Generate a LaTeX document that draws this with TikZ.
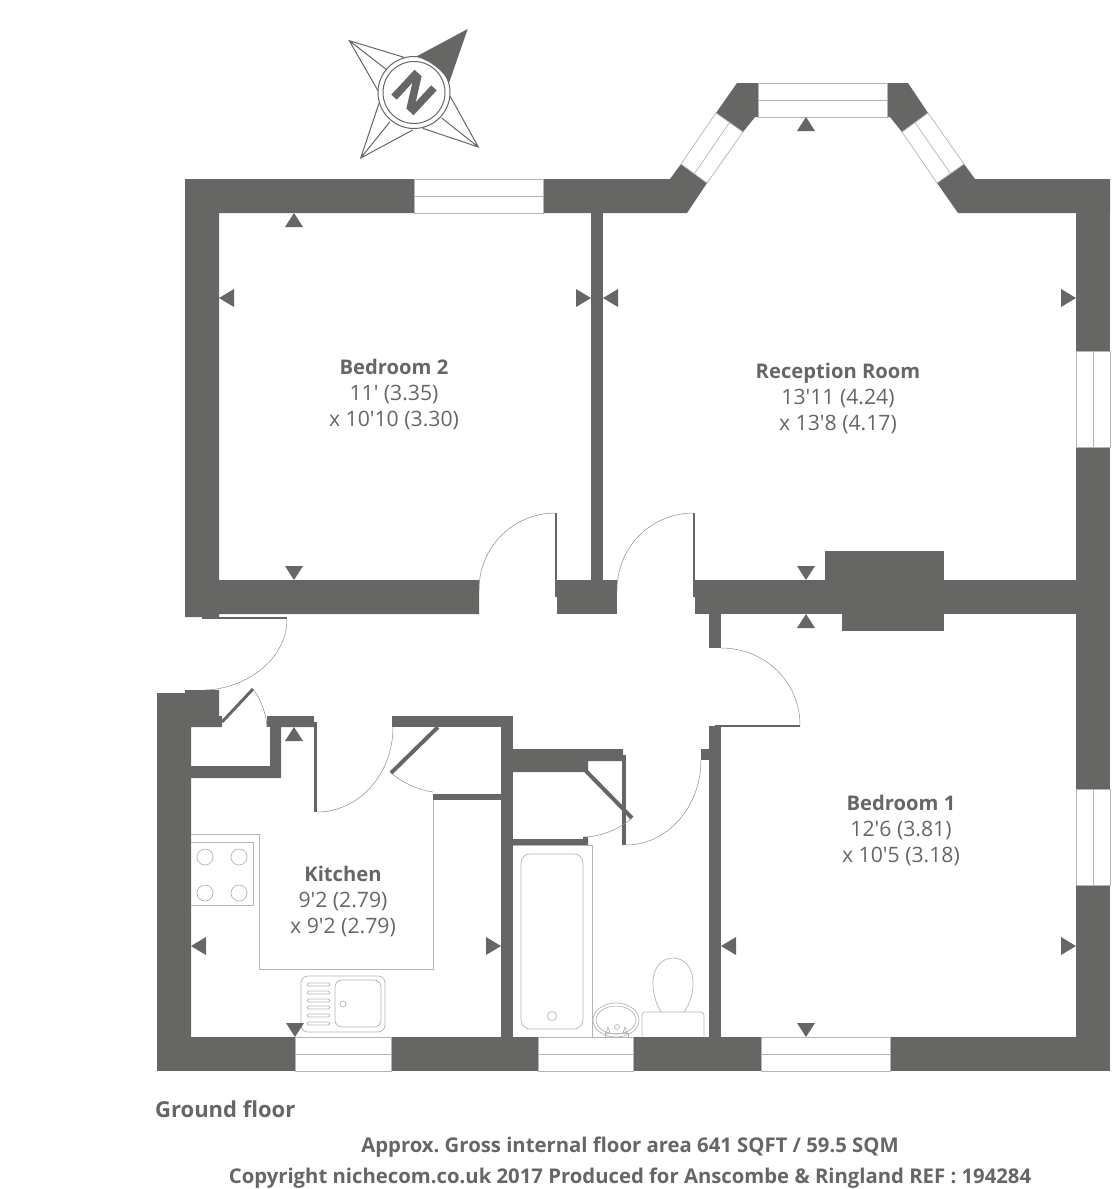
\documentclass[tikz,border=0pt]{standalone}
\usepackage{fontspec}
\newfontfamily\planfont{Open Sans}
\newfontfamily\northfont[BoldFeatures={FakeBold=2.5}]{Open Sans}
\frenchspacing
\definecolor{wallgrey}{HTML}{666665}
\definecolor{fittinggrey}{HTML}{B4B4B4}
\definecolor{doorgrey}{HTML}{8C8C8C}
\newcommand{\roomname}[1]{{\bfseries\fontsize{20.2}{26}\selectfont #1}}
\tikzset{
  wall/.style={fill=wallgrey},
  windowpane/.style={draw=fittinggrey,fill=white,line width=.7pt},
  fitting/.style={draw=fittinggrey,line width=.7pt},
  doorswing/.style={draw=doorgrey,line width=.5pt},
  compassline/.style={draw=wallgrey,line width=1pt},
  roomlabel/.style={align=center,inner sep=0pt,text=wallgrey,font=\planfont\fontsize{21.2}{26}\selectfont},
  footerlabel/.style={inner sep=0pt,text=wallgrey,font=\planfont\bfseries\fontsize{20.3}{24}\selectfont}
}
\begin{document}
\begin{tikzpicture}[x=1pt,y=-1pt]
  \useasboundingbox (0,0) rectangle (1112,1189);
  %COMPASS
  \coordinate (O) at (414,92.5);
  \coordinate (NE) at (467.7,29);
  \coordinate (NW) at (349.3,40.7);
  \coordinate (SE) at (478.3,147);
  \coordinate (SW) at (360.7,158);
  \draw[compassline] (404,57.3) -- (NW) -- (378,90.7) (NW) -- (387,70);
  \draw[compassline] (450,96) -- (SE) -- (422.7,128.3) (SE) -- (441.7,118);
  \draw[compassline] (379,103.3) -- (SW) -- (412.7,130) (SW) -- (390,121.7);
  \fill[wall] (416,56.7) -- (NE) -- (449,83) .. controls (445,72) and (430,60) .. cycle;
  \draw[compassline] (O) circle (36);
  \draw[compassline] (O) circle (31);
  \node[rotate=-43,inner sep=0pt,text=wallgrey,font=\northfont\bfseries\fontsize{46}{46}\selectfont] (northmark) at (O) {N};
  %OUTER WALLS
  \fill[wall] (185,179) -- (414,179) -- (414,213) -- (219,213) -- (219,580) -- (479,580) -- (479,614)
    -- (219,614) -- (219,617) -- (185,617) -- cycle;
  \fill[wall] (543,179) -- (670,179) -- (681,164) -- (707,183) -- (687,213) -- (543,213) -- cycle;
  \fill[wall] (716,113) -- (737,83) -- (758,83) -- (758,117) -- (755,117) -- (743,132) -- cycle;
  \fill[wall] (887,83) -- (908,83) -- (928,113) -- (902,132) -- (890,117) -- (887,117) -- cycle;
  \fill[wall] (964,164) -- (975,179) -- (1110,179) -- (1110,213) -- (958,213) -- (937,183) -- cycle;
  \fill[wall] (1076,179) rectangle (1110,351);
  \fill[wall] (1076,447) rectangle (1110,789);
  \fill[wall] (1076,885) rectangle (1110,1071);
  \fill[wall] (157,1037) rectangle (295,1071);
  \fill[wall] (391,1037) rectangle (538,1071);
  \fill[wall] (633,1037) rectangle (761,1071);
  \fill[wall] (890,1037) rectangle (1110,1071);
  \fill[wall] (157,693) -- (185,693) -- (185,690) -- (219,690) -- (219,716) -- (222,716) -- (222,727)
    -- (191,727) -- (191,1037) -- (157,1037) -- cycle;
  %INNER WALLS
  \fill[wall] (591,213) rectangle (603,580);
  \fill[wall] (557,580) rectangle (617,614);
  \fill[wall] (695,580) rectangle (1076,614);
  \fill[wall] (825,551) rectangle (944,580);
  \fill[wall] (842,614) rectangle (944,631);
  \fill[wall] (709,614) rectangle (721,648);
  \fill[wall] (709,726) rectangle (721,1037);
  \fill[wall] (701,749) rectangle (709,760);
  \fill[wall] (191,766) -- (270,766) -- (270,716) -- (314,716) -- (314,727) -- (281,727) -- (281,778) -- (191,778) -- cycle;
  \fill[wall] (267,716) rectangle (270,727);
  \fill[wall] (392,716) rectangle (513,727);
  \fill[wall] (501,727) rectangle (513,1037);
  \fill[wall] (433,794) rectangle (501,800);
  \fill[wall] (513,749) -- (623,749) -- (623,761) -- (588,761) -- (588,770) -- (583,772) -- (513,772) -- cycle;
  \fill[wall] (513,839) -- (583,839) -- (583,837) -- (588,837) -- (588,845) -- (513,845) -- cycle;
  %DOORS
  \fill[wall] (202,617) rectangle (287,619);
  \draw[doorswing] (287,619) .. controls (287,660) and (245,689) .. (205,690);
  \draw[draw=wallgrey,line width=3pt] (222,722) -- (253,689);
  \draw[doorswing] (253,689) .. controls (260,698) and (266,712) .. (267,727);
  \fill[wall] (314,722) rectangle (317,812);
  \draw[doorswing] (317,812) .. controls (359,812) and (393,774) .. (393,727);
  \draw[draw=wallgrey,line width=4pt] (438,727) -- (391,773);
  \draw[doorswing] (391,773) .. controls (403,783) and (418,790) .. (433,792);
  \fill[wall] (555,513) rectangle (557,597);
  \draw[doorswing] (556,513) .. controls (513,513) and (479,547) .. (479,590);
  \fill[wall] (693,513) rectangle (695,597);
  \draw[doorswing] (694,513) .. controls (651,513) and (617,547) .. (617,590);
  \fill[wall] (715,725) rectangle (800,727);
  \draw[doorswing] (721,648) .. controls (765,648) and (800,682) .. (800,725);
  \fill[wall] (622,755) rectangle (626,845);
  \draw[doorswing] (626,845) .. controls (667,845) and (701,807) .. (701,760);
  \draw[draw=wallgrey,line width=4pt] (585,770) -- (632,818);
  \draw[doorswing] (632,818) .. controls (618,830) and (600,837) .. (583,837);
  %WINDOWS
  \draw[windowpane] (414,179) rectangle (543,213) (414,196) -- (543,196);
  \draw[windowpane] (758,83) rectangle (887,117) (758,100) -- (887,100);
  \draw[windowpane] (681,164) -- (716,113) -- (743,132) -- (707,183) -- cycle (694.5,173.5) -- (729.5,122.5);
  \draw[windowpane] (928,113) -- (964,164) -- (937,183) -- (902,132) -- cycle (915,122.5) -- (950.5,173.5);
  \draw[windowpane] (1076,351) rectangle (1110,447) (1093,351) -- (1093,447);
  \draw[windowpane] (1076,789) rectangle (1110,885) (1093,789) -- (1093,885);
  \draw[windowpane] (295,1037) rectangle (391,1071) (295,1054) -- (391,1054);
  \draw[windowpane] (538,1037) rectangle (633,1071) (538,1054) -- (633,1054);
  \draw[windowpane] (761,1037) rectangle (890,1071) (761,1054) -- (890,1054);
  %KITCHEN FITTINGS
  \draw[fitting] (191,834) -- (259,834) -- (259,969) -- (433,969) -- (433,800);
  \draw[fitting] (191,842) -- (253,842) -- (253,905) -- (191,905);
  \draw[fitting] (205,857) circle (8) (239,857) circle (8) (205,893) circle (8) (239,893) circle (8);
  \draw[fitting,rounded corners=7pt] (301,976) rectangle (385,1032);
  \draw[fitting,rounded corners=7pt] (335,980) rectangle (381,1027);
  \draw[fitting] (343,1004) circle (3);
  \draw[fitting,rounded corners=1.5pt] (307,983) rectangle (330,986) (307,991) rectangle (330,994)
    (307,999) rectangle (330,1002) (307,1006) rectangle (330,1009)
    (307,1014) rectangle (330,1017) (307,1022) rectangle (330,1025);
  %BATHROOM FITTINGS
  \draw[fitting] (513,845) -- (592,845) -- (592,1037);
  \draw[fitting,rounded corners=9pt] (521,854) rectangle (583,1029);
  \draw[fitting] (552,1016) circle (4.5);
  \draw[fitting] (616,1020) ellipse (23 and 17);
  \draw[fitting] (616,1020) ellipse (20 and 14);
  \draw[fitting] (617,1027) circle (2.5);
  \draw[fitting] (605,1037) rectangle (628,1033);
  \draw[fitting] (608,1027) -- (610,1033) -- (606,1033) -- cycle (625,1027) -- (627,1033) -- (623,1033) -- cycle;
  \draw[fitting,rounded corners=3pt] (642,1037) -- (642,1012) -- (704,1012) -- (704,1037);
  \draw[fitting] (661,1012) .. controls (655,1002) and (653,992) .. (653,983)
    .. controls (653,967) and (662,958) .. (673,958) .. controls (684,958) and (693,967) .. (693,983)
    .. controls (693,992) and (691,1002) .. (684,1012);
  %MEASURING MARKS
  \fill[wall] (285,227) -- (303,227) -- (294,213) -- cycle;
  \fill[wall] (234,289) -- (234,307) -- (219,298) -- cycle;
  \fill[wall] (576,289) -- (576,307) -- (591,298) -- cycle;
  \fill[wall] (285,566) -- (303,566) -- (294,580) -- cycle;
  \fill[wall] (618,289) -- (618,307) -- (603,298) -- cycle;
  \fill[wall] (1061,289) -- (1061,307) -- (1076,298) -- cycle;
  \fill[wall] (797,131) -- (815,131) -- (806,117) -- cycle;
  \fill[wall] (797,566) -- (815,566) -- (806,580) -- cycle;
  \fill[wall] (797,628) -- (815,628) -- (806,614) -- cycle;
  \fill[wall] (736,937) -- (736,955) -- (721,946) -- cycle;
  \fill[wall] (1061,937) -- (1061,955) -- (1076,946) -- cycle;
  \fill[wall] (797,1023) -- (815,1023) -- (806,1037) -- cycle;
  \fill[wall] (206,937) -- (206,955) -- (191,946) -- cycle;
  \fill[wall] (486,937) -- (486,955) -- (501,946) -- cycle;
  \fill[wall] (285,741) -- (303,741) -- (294,727) -- cycle;
  \fill[wall] (286,1023) -- (304,1023) -- (295,1037) -- cycle;
  %LABELS
  \node[roomlabel] (bedroomtwo) at (394,394.5) {\roomname{Bedroom 2}\\11' (3.35)\\x 10'10 (3.30)};
  \node[roomlabel] (reception) at (838,398.5) {\roomname{Reception Room}\\13'11 (4.24)\\x 13'8 (4.17)};
  \node[roomlabel] (bedroomone) at (901,830.5) {\roomname{Bedroom 1}\\12'6 (3.81)\\x 10'5 (3.18)};
  \node[roomlabel] (kitchen) at (343,901) {\roomname{Kitchen}\\9'2 (2.79)\\x 9'2 (2.79)};
  \node[footerlabel,anchor=west,font=\planfont\bfseries\fontsize{22}{24}\selectfont] (floorname) at (155,1109) {Ground floor};
  \node[footerlabel] (floorarea) at (630,1147.5) {Approx. Gross internal floor area 641 SQFT / 59.5 SQM};
  \node[footerlabel] (copyright) at (630,1178.5) {Copyright nichecom.co.uk 2017 Produced for Anscombe \& Ringland REF : 194284};
\end{tikzpicture}
\end{document}
